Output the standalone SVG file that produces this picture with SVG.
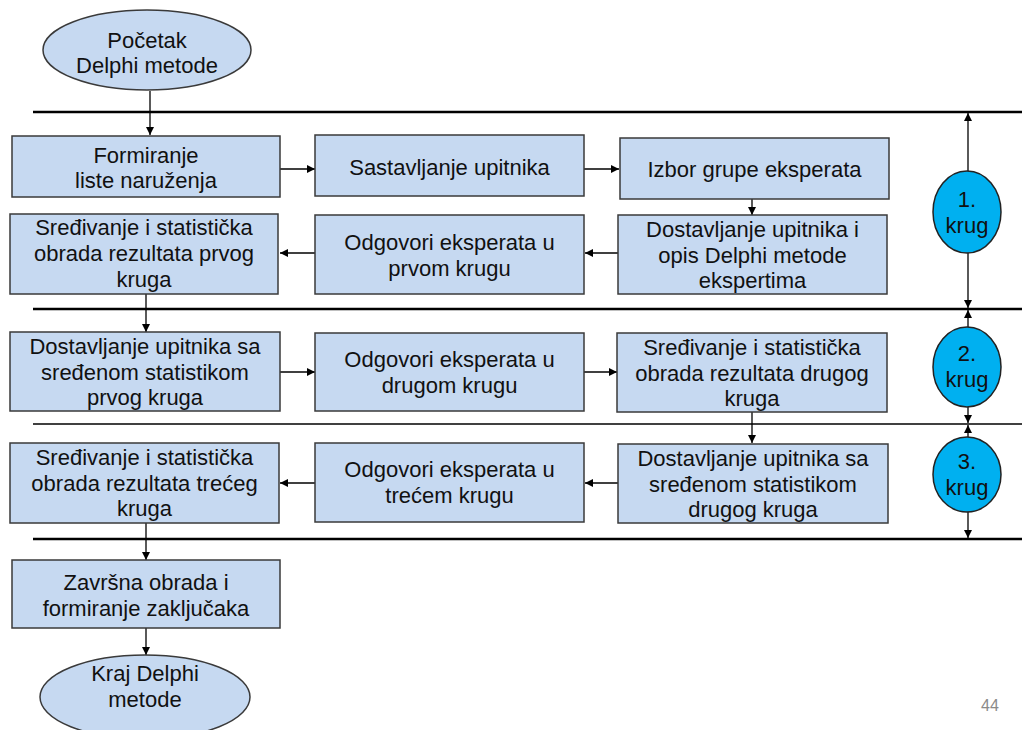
<svg xmlns="http://www.w3.org/2000/svg" width="1022" height="730" viewBox="0 0 1022 730">
<defs>
<style>
.box{fill:#C6D9F1;stroke:#3a3a3a;stroke-width:1.5}
.circ{fill:#00B0F0;stroke:#222;stroke-width:1.5}
.t{font-family:"Liberation Sans",Arial,sans-serif;font-size:22px;fill:#111;text-anchor:middle}
.sep{stroke:#000;stroke-width:2.5}
.septhin{stroke:#000;stroke-width:1.5}
.c{stroke:#000;stroke-width:1.3;fill:none;marker-end:url(#ah)}
</style>
<marker id="ah" viewBox="0 0 10 10" refX="10" refY="5" markerWidth="8" markerHeight="8" markerUnits="userSpaceOnUse" orient="auto">
<path d="M0,0 L10,5 L0,10 z" fill="#000"/>
</marker>
</defs>
<rect width="1022" height="730" fill="#fff"/>

<g id="separators">
<line class="sep" x1="33" y1="112" x2="1022" y2="112"/>
<line class="sep" x1="33" y1="309" x2="1022" y2="309"/>
<line class="septhin" x1="33" y1="424" x2="1022" y2="424"/>
<line class="sep" x1="33" y1="539" x2="1022" y2="539"/>
</g>

<g id="connectors">
<line class="c" x1="150" y1="91" x2="150" y2="135"/>
<line class="c" x1="280" y1="169" x2="315" y2="169"/>
<line class="c" x1="584" y1="169" x2="619" y2="169"/>
<line class="c" x1="752" y1="199" x2="752" y2="215"/>
<line class="c" x1="618" y1="253" x2="585" y2="253"/>
<line class="c" x1="315" y1="253" x2="280" y2="253"/>
<line class="c" x1="146" y1="294" x2="146" y2="332"/>
<line class="c" x1="280" y1="372" x2="315" y2="372"/>
<line class="c" x1="584" y1="372" x2="617" y2="372"/>
<line class="c" x1="752" y1="412" x2="752" y2="443"/>
<line class="c" x1="618" y1="483" x2="585" y2="483"/>
<line class="c" x1="315" y1="483" x2="280" y2="483"/>
<line class="c" x1="146" y1="523" x2="146" y2="560"/>
<line class="c" x1="146" y1="628" x2="146" y2="655"/>
<line class="c" x1="968" y1="171" x2="968" y2="113"/>
<line class="c" x1="968" y1="253" x2="968" y2="308"/>
<line class="c" x1="968" y1="327" x2="968" y2="310"/>
<line class="c" x1="968" y1="407" x2="968" y2="423"/>
<line class="c" x1="968" y1="437" x2="968" y2="425"/>
<line class="c" x1="968" y1="512" x2="968" y2="538"/>
</g>

<g id="n-pocetak">
<ellipse class="box" cx="147" cy="50" rx="104" ry="40"/>
<text class="t" x="147" y="48">Početak</text>
<text class="t" x="147" y="73">Delphi metode</text>
</g>

<g id="n-formiranje">
<rect class="box" x="12" y="136" width="268" height="61"/>
<text class="t" x="146" y="163">Formiranje</text>
<text class="t" x="146" y="188">liste naruženja</text>
</g>

<g id="n-sastavljanje">
<rect class="box" x="315" y="135" width="269" height="61"/>
<text class="t" x="449.5" y="175">Sastavljanje upitnika</text>
</g>

<g id="n-izbor">
<rect class="box" x="620" y="138" width="269" height="61"/>
<text class="t" x="754.5" y="177">Izbor grupe eksperata</text>
</g>

<g id="n-dostavljanje1">
<rect class="box" x="618" y="215" width="269" height="79"/>
<text class="t" x="752.5" y="237">Dostavljanje upitnika i</text>
<text class="t" x="752.5" y="263">opis Delphi metode</text>
<text class="t" x="752.5" y="288">ekspertima</text>
</g>

<g id="n-odgovori1">
<rect class="box" x="315" y="215" width="269" height="79"/>
<text class="t" x="449.5" y="250">Odgovori eksperata u</text>
<text class="t" x="449.5" y="276">prvom krugu</text>
</g>

<g id="n-sredjivanje1">
<rect class="box" x="10" y="214" width="268" height="80"/>
<text class="t" x="144" y="235">Sređivanje i statistička</text>
<text class="t" x="144" y="261">obrada rezultata prvog</text>
<text class="t" x="144" y="287">kruga</text>
</g>

<g id="n-dostavljanje2">
<rect class="box" x="10" y="332" width="270" height="79"/>
<text class="t" x="145" y="354">Dostavljanje upitnika sa</text>
<text class="t" x="145" y="380">sređenom statistikom</text>
<text class="t" x="145" y="405">prvog kruga</text>
</g>

<g id="n-odgovori2">
<rect class="box" x="315" y="333" width="269" height="78"/>
<text class="t" x="449.5" y="367">Odgovori eksperata u</text>
<text class="t" x="449.5" y="393">drugom krugu</text>
</g>

<g id="n-sredjivanje2">
<rect class="box" x="617" y="333" width="270" height="79"/>
<text class="t" x="752" y="355">Sređivanje i statistička</text>
<text class="t" x="752" y="381">obrada rezultata drugog</text>
<text class="t" x="752" y="406">kruga</text>
</g>

<g id="n-dostavljanje3">
<rect class="box" x="618" y="444" width="270" height="79"/>
<text class="t" x="753" y="466">Dostavljanje upitnika sa</text>
<text class="t" x="753" y="492">sređenom statistikom</text>
<text class="t" x="753" y="517">drugog kruga</text>
</g>

<g id="n-odgovori3">
<rect class="box" x="315" y="443" width="269" height="79"/>
<text class="t" x="449.5" y="477">Odgovori eksperata u</text>
<text class="t" x="449.5" y="503">trećem krugu</text>
</g>

<g id="n-sredjivanje3">
<rect class="box" x="10" y="443" width="269" height="80"/>
<text class="t" x="144.5" y="465">Sređivanje i statistička</text>
<text class="t" x="144.5" y="491">obrada rezultata trećeg</text>
<text class="t" x="144.5" y="516">kruga</text>
</g>

<g id="n-zavrsna">
<rect class="box" x="12" y="560" width="268" height="68"/>
<text class="t" x="146" y="590">Završna obrada i</text>
<text class="t" x="146" y="616">formiranje zaključaka</text>
</g>

<g id="n-kraj">
<ellipse class="box" cx="145" cy="697" rx="105" ry="42"/>
<text class="t" x="145" y="681">Kraj Delphi</text>
<text class="t" x="145" y="707">metode</text>
</g>

<g id="n-krug1">
<ellipse class="circ" cx="967" cy="212" rx="34" ry="41"/>
<text class="t" x="967" y="207">1.</text>
<text class="t" x="967" y="233">krug</text>
</g>

<g id="n-krug2">
<ellipse class="circ" cx="967" cy="367" rx="34" ry="40"/>
<text class="t" x="967" y="361">2.</text>
<text class="t" x="967" y="387">krug</text>
</g>

<g id="n-krug3">
<ellipse class="circ" cx="967" cy="474.5" rx="34" ry="37.5"/>
<text class="t" x="967" y="469">3.</text>
<text class="t" x="967" y="495">krug</text>
</g>

<text x="990" y="711" font-family="'Liberation Sans',Arial,sans-serif" font-size="16" fill="#8a8a8a" text-anchor="middle">44</text>
</svg>
